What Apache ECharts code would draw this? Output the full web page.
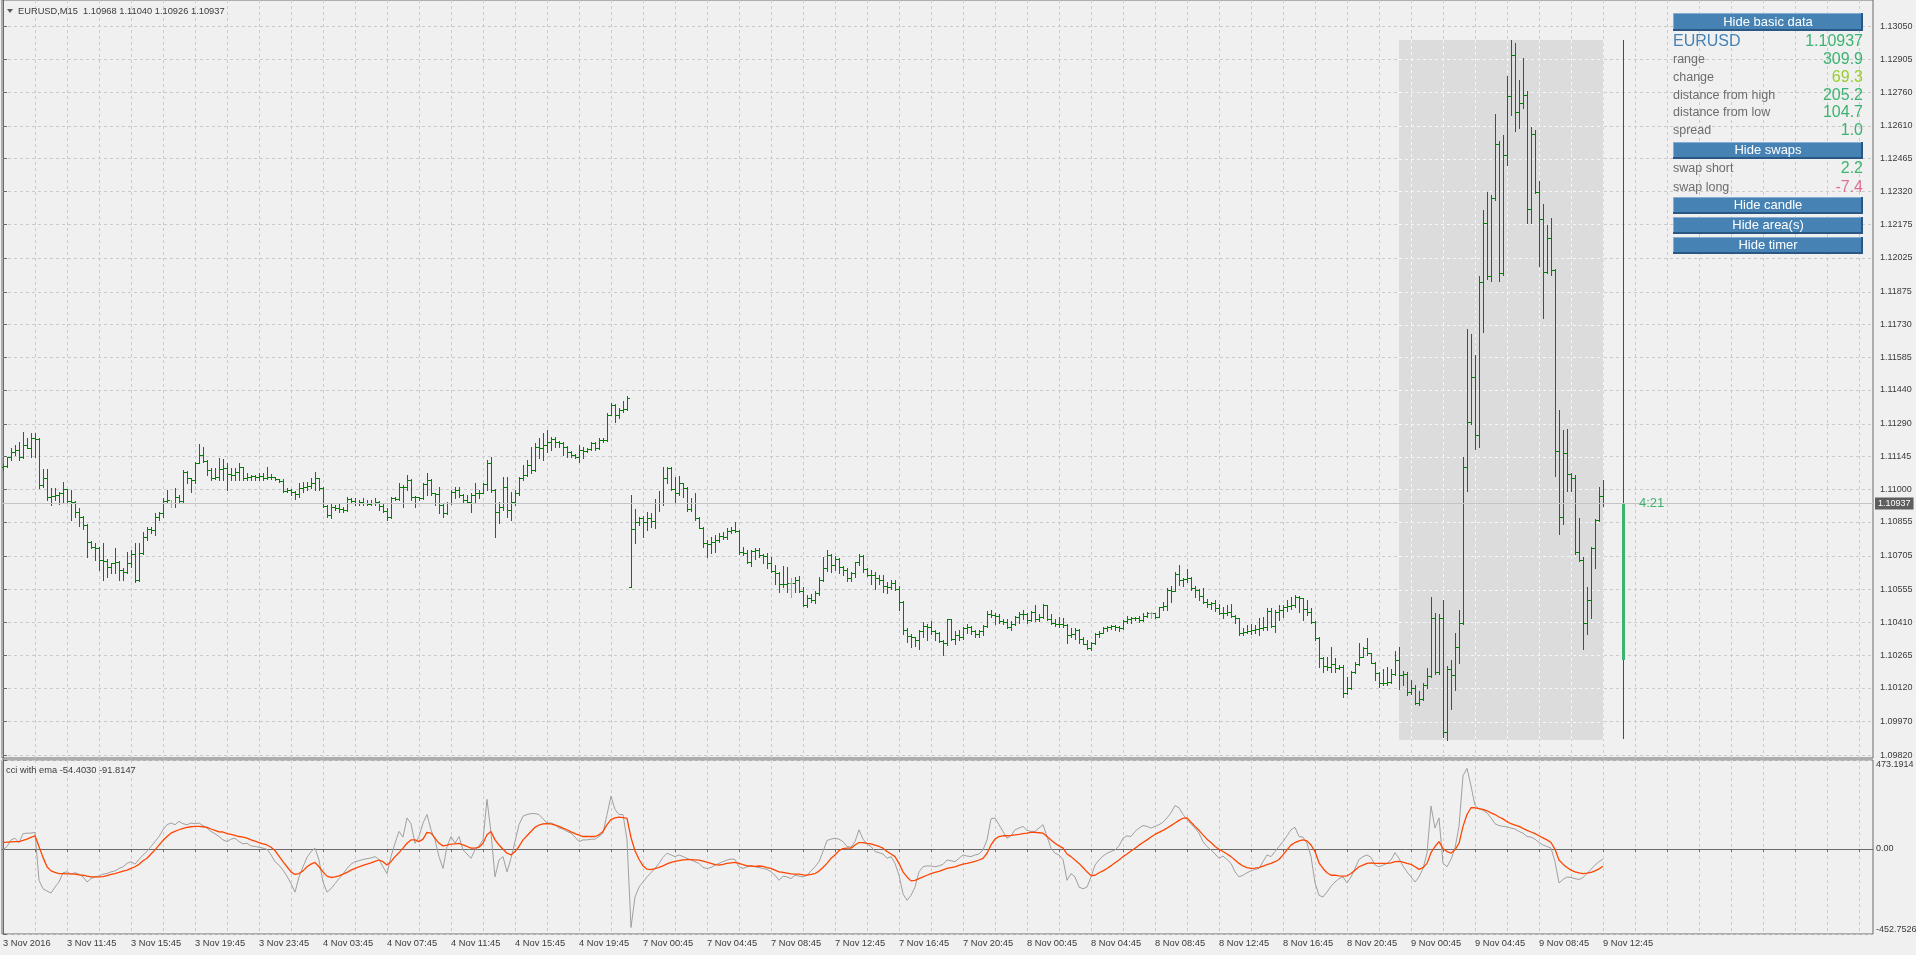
<!DOCTYPE html>
<html>
<head>
<meta charset="utf-8">
<title>EURUSD,M15</title>
<script src="https://cdn.jsdelivr.net/npm/echarts@6/dist/echarts.min.js"></script>
<style>
  html, body { margin: 0; padding: 0; background: #f0f0f0; }
  #chart { width: 1916px; height: 955px; }
</style>
</head>
<body>
<div id="chart"></div>
<script>
const symbol = 'EURUSD';
const period = 'M15';

// bottom time scale, one label every 16 bars
const timeLabels = ['3 Nov 2016', '3 Nov 11:45', '3 Nov 15:45', '3 Nov 19:45', '3 Nov 23:45',
  '4 Nov 03:45', '4 Nov 07:45', '4 Nov 11:45', '4 Nov 15:45', '4 Nov 19:45',
  '7 Nov 00:45', '7 Nov 04:45', '7 Nov 08:45', '7 Nov 12:45', '7 Nov 16:45', '7 Nov 20:45',
  '8 Nov 00:45', '8 Nov 04:45', '8 Nov 08:45', '8 Nov 12:45', '8 Nov 16:45', '8 Nov 20:45',
  '9 Nov 00:45', '9 Nov 04:45', '9 Nov 08:45', '9 Nov 12:45'];

// price scale labels
const priceTicks = [1.13050, 1.12905, 1.12760, 1.12610, 1.12465, 1.12320, 1.12175, 1.12025,
  1.11875, 1.11730, 1.11585, 1.11440, 1.11290, 1.11145, 1.11000, 1.10855, 1.10705, 1.10555,
  1.10410, 1.10265, 1.10120, 1.09970, 1.09820];

const opens = [
  1.11097,1.11103,1.11142,1.11167,1.11174,1.11145,1.11196,1.11182,1.11226,1.11222,
  1.11019,1.11048,1.10967,1.10970,1.10974,1.10982,1.10999,1.10949,1.10945,1.10900,
  1.10878,1.10841,1.10767,1.10745,1.10738,1.10686,1.10683,1.10656,1.10671,1.10678,
  1.10641,1.10634,1.10671,1.10712,1.10597,1.10718,1.10789,1.10826,1.10819,1.10878,
  1.10896,1.10949,1.10937,1.10937,1.10967,1.10949,1.11078,1.11048,1.11041,1.11118,
  1.11152,1.11125,1.11085,1.11048,1.11053,1.11088,1.11093,1.11068,1.11063,1.11078,
  1.11097,1.11048,1.11056,1.11059,1.11053,1.11059,1.11048,1.11056,1.11053,1.11044,
  1.11038,1.10994,1.10997,1.10989,1.10979,1.11004,1.11008,1.11014,1.11026,1.11048,
  1.11004,1.10926,1.10886,1.10920,1.10915,1.10911,1.10908,1.10955,1.10949,1.10940,
  1.10945,1.10940,1.10934,1.10937,1.10945,1.10926,1.10905,1.10878,1.10960,1.10955,
  1.11011,1.11008,1.11041,1.10967,1.10964,1.10960,1.11023,1.11041,1.10982,1.10979,
  1.10930,1.10893,1.10937,1.10989,1.10997,1.10974,1.10952,1.10945,1.10974,1.10982,
  1.10985,1.11023,1.11118,1.10997,1.10900,1.10923,1.11011,1.10908,1.10945,1.10982,
  1.11048,1.11063,1.11108,1.11085,1.11189,1.11182,1.11196,1.11211,1.11222,1.11211,
  1.11204,1.11189,1.11167,1.11152,1.11145,1.11174,1.11171,1.11177,1.11204,1.11182,
  1.11219,1.11216,1.11330,1.11374,1.11330,1.11352,1.11355,1.10568,1.10822,1.10855,
  1.10873,1.10856,1.10871,1.10861,1.10938,1.10941,1.11049,1.11096,1.11000,1.10985,
  1.11026,1.11007,1.10911,1.10938,1.10874,1.10830,1.10760,1.10757,1.10764,1.10775,
  1.10793,1.10790,1.10816,1.10819,1.10816,1.10723,1.10719,1.10679,1.10727,1.10730,
  1.10708,1.10704,1.10671,1.10639,1.10630,1.10582,1.10579,1.10585,1.10585,1.10597,
  1.10548,1.10486,1.10519,1.10511,1.10538,1.10597,1.10649,1.10708,1.10664,1.10693,
  1.10656,1.10642,1.10605,1.10627,1.10676,1.10704,1.10645,1.10622,1.10619,1.10605,
  1.10600,1.10571,1.10568,1.10585,1.10560,1.10501,1.10378,1.10349,1.10343,1.10331,
  1.10371,1.10393,1.10390,1.10372,1.10363,1.10328,1.10319,1.10423,1.10338,1.10353,
  1.10343,1.10383,1.10390,1.10371,1.10357,1.10372,1.10393,1.10446,1.10443,1.10440,
  1.10415,1.10412,1.10390,1.10405,1.10434,1.10445,1.10449,1.10420,1.10457,1.10423,
  1.10434,1.10486,1.10423,1.10408,1.10405,1.10402,1.10399,1.10353,1.10360,1.10378,
  1.10338,1.10316,1.10298,1.10319,1.10360,1.10365,1.10384,1.10388,1.10394,1.10388,
  1.10384,1.10416,1.10424,1.10428,1.10431,1.10421,1.10439,1.10450,1.10450,1.10436,
  1.10476,1.10483,1.10554,1.10551,1.10625,1.10598,1.10601,1.10606,1.10561,1.10554,
  1.10527,1.10502,1.10490,1.10495,1.10473,1.10450,1.10453,1.10458,1.10439,1.10428,
  1.10362,1.10369,1.10373,1.10376,1.10379,1.10384,1.10388,1.10462,1.10394,1.10458,
  1.10465,1.10480,1.10483,1.10487,1.10521,1.10517,1.10468,1.10458,1.10413,1.10339,
  1.10251,1.10217,1.10214,1.10225,1.10206,1.10211,1.10095,1.10117,1.10191,1.10225,
  1.10258,1.10295,1.10273,1.10231,1.10184,1.10140,1.10141,1.10147,1.10182,1.10244,
  1.10176,1.10182,1.10100,1.10121,1.10053,1.10069,1.10131,1.10172,1.10428,1.10192,
  1.10428,1.09926,1.10203,1.10176,1.10299,1.10407,1.11098,1.11298,1.11499,1.11241,
  1.11917,1.12179,1.11943,1.12292,1.12531,1.11958,1.12482,1.12742,1.12926,1.12670,
  1.12711,1.12748,1.12240,1.12572,1.12318,1.12199,1.11964,1.12113,1.11970,1.11171,
  1.10878,1.11159,1.11069,1.11052,1.10721,1.10688,1.10407,1.10510,1.10741,1.10864,
  1.10968];

const highs = [
  1.11112,1.11142,1.11182,1.11196,1.11211,1.11253,1.11226,1.11248,1.11251,1.11226,
  1.11088,1.11088,1.11004,1.11004,1.10989,1.11031,1.11001,1.10997,1.10950,1.10918,
  1.10883,1.10845,1.10770,1.10760,1.10745,1.10760,1.10690,1.10675,1.10738,1.10680,
  1.10649,1.10723,1.10730,1.10760,1.10760,1.10812,1.10834,1.10834,1.10893,1.10900,
  1.10960,1.10997,1.10952,1.11004,1.10974,1.11085,1.11082,1.11052,1.11122,1.11201,
  1.11186,1.11130,1.11093,1.11093,1.11137,1.11133,1.11115,1.11093,1.11093,1.11118,
  1.11100,1.11071,1.11063,1.11063,1.11071,1.11071,1.11097,1.11068,1.11056,1.11047,
  1.11044,1.11004,1.11000,1.10992,1.11029,1.11034,1.11034,1.11048,1.11078,1.11052,
  1.11008,1.10930,1.10937,1.10930,1.10937,1.10923,1.10967,1.10960,1.10960,1.10952,
  1.10960,1.10952,1.10952,1.10960,1.10948,1.10937,1.10915,1.10967,1.10967,1.11026,
  1.11019,1.11063,1.11044,1.10970,1.10967,1.11026,1.11071,1.11044,1.10985,1.11011,
  1.10937,1.10945,1.10997,1.11011,1.11011,1.10977,1.10974,1.10982,1.11026,1.10997,
  1.11026,1.11130,1.11142,1.11000,1.10945,1.11056,1.11056,1.10989,1.10997,1.11056,
  1.11108,1.11130,1.11189,1.11204,1.11226,1.11248,1.11263,1.11233,1.11233,1.11214,
  1.11211,1.11192,1.11170,1.11155,1.11196,1.11189,1.11182,1.11211,1.11211,1.11226,
  1.11226,1.11337,1.11381,1.11377,1.11359,1.11389,1.11411,1.10975,1.10911,1.10875,
  1.10881,1.10901,1.10893,1.10955,1.10992,1.11100,1.11100,1.11100,1.11056,1.11059,
  1.11029,1.11012,1.10960,1.10982,1.10878,1.10834,1.10775,1.10787,1.10797,1.10807,
  1.10812,1.10827,1.10834,1.10855,1.10820,1.10742,1.10730,1.10730,1.10738,1.10738,
  1.10712,1.10716,1.10701,1.10664,1.10634,1.10659,1.10656,1.10605,1.10612,1.10615,
  1.10568,1.10531,1.10534,1.10548,1.10609,1.10698,1.10730,1.10713,1.10704,1.10696,
  1.10660,1.10649,1.10634,1.10679,1.10711,1.10707,1.10649,1.10642,1.10634,1.10622,
  1.10619,1.10590,1.10597,1.10600,1.10571,1.10504,1.10383,1.10357,1.10346,1.10375,
  1.10412,1.10402,1.10414,1.10375,1.10368,1.10334,1.10427,1.10426,1.10372,1.10378,
  1.10390,1.10405,1.10393,1.10375,1.10378,1.10400,1.10461,1.10467,1.10452,1.10446,
  1.10423,1.10423,1.10417,1.10437,1.10457,1.10467,1.10452,1.10461,1.10486,1.10446,
  1.10491,1.10488,1.10446,1.10423,1.10434,1.10431,1.10402,1.10383,1.10383,1.10381,
  1.10346,1.10334,1.10323,1.10363,1.10373,1.10388,1.10394,1.10399,1.10399,1.10394,
  1.10421,1.10439,1.10433,1.10436,1.10439,1.10450,1.10458,1.10458,1.10453,1.10480,
  1.10502,1.10561,1.10569,1.10635,1.10665,1.10606,1.10647,1.10613,1.10569,1.10557,
  1.10561,1.10513,1.10502,1.10507,1.10492,1.10480,1.10487,1.10492,1.10443,1.10431,
  1.10384,1.10399,1.10403,1.10399,1.10428,1.10433,1.10473,1.10473,1.10465,1.10487,
  1.10487,1.10507,1.10521,1.10532,1.10527,1.10519,1.10507,1.10473,1.10416,1.10344,
  1.10255,1.10258,1.10302,1.10251,1.10221,1.10221,1.10169,1.10196,1.10236,1.10317,
  1.10302,1.10339,1.10276,1.10236,1.10191,1.10203,1.10213,1.10203,1.10284,1.10299,
  1.10196,1.10192,1.10155,1.10131,1.10106,1.10141,1.10209,1.10524,1.10452,1.10448,
  1.10510,1.10217,1.10244,1.10364,1.10463,1.11145,1.11712,1.11687,1.11595,1.11943,
  1.12236,1.12318,1.12302,1.12664,1.12543,1.12568,1.12830,1.12989,1.12978,1.12814,
  1.12912,1.12763,1.12605,1.12593,1.12367,1.12265,1.12169,1.12203,1.11975,1.11349,
  1.11261,1.11268,1.11073,1.11063,1.10872,1.10700,1.10565,1.10745,1.10868,1.11012,
  1.11040];

const lows = [
  1.11085,1.11097,1.11130,1.11152,1.11130,1.11140,1.11182,1.11142,1.11145,1.11004,
  1.11011,1.10952,1.10930,1.10952,1.10934,1.10937,1.10937,1.10863,1.10878,1.10837,
  1.10826,1.10701,1.10738,1.10686,1.10641,1.10597,1.10612,1.10627,1.10627,1.10597,
  1.10597,1.10630,1.10656,1.10590,1.10592,1.10715,1.10775,1.10804,1.10797,1.10863,
  1.10878,1.10937,1.10923,1.10923,1.10937,1.10945,1.11026,1.10989,1.11026,1.11115,
  1.11122,1.11063,1.11041,1.11045,1.11041,1.11041,1.10997,1.11041,1.11041,1.11041,
  1.11041,1.11041,1.11041,1.11041,1.11041,1.11041,1.11045,1.11044,1.11041,1.11034,
  1.10989,1.10989,1.10974,1.10955,1.10967,1.10989,1.10997,1.11004,1.10997,1.10997,
  1.10923,1.10878,1.10871,1.10908,1.10900,1.10900,1.10905,1.10937,1.10930,1.10930,
  1.10930,1.10930,1.10930,1.10930,1.10908,1.10900,1.10863,1.10871,1.10952,1.10952,
  1.10923,1.10997,1.10952,1.10923,1.10952,1.10957,1.10974,1.10974,1.10930,1.10893,
  1.10878,1.10890,1.10934,1.10960,1.10967,1.10937,1.10937,1.10900,1.10945,1.10960,
  1.10982,1.10997,1.10989,1.10789,1.10849,1.10908,1.10878,1.10863,1.10930,1.10974,
  1.11041,1.11060,1.11071,1.11082,1.11137,1.11130,1.11167,1.11174,1.11189,1.11189,
  1.11152,1.11145,1.11145,1.11137,1.11122,1.11137,1.11167,1.11174,1.11174,1.11179,
  1.11211,1.11213,1.11327,1.11300,1.11315,1.11344,1.11352,1.10565,1.10763,1.10841,
  1.10790,1.10819,1.10834,1.10827,1.10905,1.10930,1.11029,1.10997,1.10941,1.10975,
  1.10967,1.10905,1.10905,1.10864,1.10827,1.10745,1.10701,1.10719,1.10723,1.10767,
  1.10779,1.10778,1.10807,1.10812,1.10713,1.10708,1.10671,1.10659,1.10690,1.10701,
  1.10671,1.10649,1.10634,1.10582,1.10545,1.10568,1.10545,1.10523,1.10545,1.10545,
  1.10482,1.10479,1.10501,1.10497,1.10531,1.10594,1.10637,1.10634,1.10642,1.10627,
  1.10619,1.10594,1.10594,1.10612,1.10664,1.10634,1.10615,1.10582,1.10560,1.10579,
  1.10545,1.10541,1.10556,1.10553,1.10467,1.10357,1.10323,1.10301,1.10304,1.10294,
  1.10346,1.10331,1.10360,1.10331,1.10323,1.10264,1.10309,1.10331,1.10313,1.10331,
  1.10338,1.10363,1.10360,1.10346,1.10346,1.10353,1.10390,1.10434,1.10405,1.10408,
  1.10405,1.10383,1.10378,1.10397,1.10408,1.10423,1.10408,1.10417,1.10417,1.10417,
  1.10431,1.10420,1.10402,1.10393,1.10390,1.10390,1.10319,1.10346,1.10338,1.10319,
  1.10313,1.10294,1.10289,1.10316,1.10344,1.10362,1.10373,1.10379,1.10376,1.10373,
  1.10381,1.10406,1.10406,1.10421,1.10413,1.10418,1.10433,1.10428,1.10428,1.10434,
  1.10465,1.10465,1.10502,1.10547,1.10576,1.10569,1.10591,1.10554,1.10524,1.10510,
  1.10495,1.10480,1.10468,1.10462,1.10447,1.10428,1.10443,1.10436,1.10406,1.10354,
  1.10354,1.10362,1.10359,1.10362,1.10354,1.10376,1.10376,1.10388,1.10369,1.10421,
  1.10433,1.10462,1.10468,1.10480,1.10458,1.10421,1.10443,1.10406,1.10332,1.10214,
  1.10191,1.10199,1.10191,1.10191,1.10203,1.10080,1.10092,1.10114,1.10184,1.10221,
  1.10255,1.10265,1.10228,1.10154,1.10125,1.10131,1.10131,1.10141,1.10179,1.10114,
  1.10131,1.10090,1.10094,1.10049,1.10045,1.10066,1.10121,1.10169,1.10182,1.10182,
  1.09902,1.09890,1.10024,1.10110,1.10229,1.10401,1.10991,1.11288,1.11179,1.11186,
  1.11696,1.11933,1.11923,1.12281,1.11923,1.11950,1.12435,1.12660,1.12588,1.12599,
  1.12691,1.12179,1.12179,1.12312,1.11990,1.11759,1.11960,1.11950,1.11057,1.10803,
  1.10848,1.10991,1.10991,1.10715,1.10684,1.10291,1.10360,1.10428,1.10653,1.10858,
  1.10926];

const closes = [
  1.11103,1.11142,1.11167,1.11174,1.11145,1.11196,1.11182,1.11226,1.11222,1.11019,
  1.11048,1.10967,1.10970,1.10974,1.10982,1.10999,1.10949,1.10945,1.10900,1.10878,
  1.10841,1.10767,1.10745,1.10738,1.10686,1.10683,1.10656,1.10671,1.10678,1.10641,
  1.10634,1.10671,1.10712,1.10597,1.10718,1.10789,1.10826,1.10819,1.10878,1.10896,
  1.10949,1.10952,1.10937,1.10967,1.10949,1.11078,1.11048,1.11041,1.11118,1.11152,
  1.11125,1.11085,1.11048,1.11053,1.11088,1.11093,1.11068,1.11063,1.11078,1.11097,
  1.11048,1.11056,1.11059,1.11053,1.11059,1.11048,1.11056,1.11053,1.11044,1.11038,
  1.10994,1.10997,1.10989,1.10979,1.11004,1.11008,1.11014,1.11026,1.11048,1.11004,
  1.10926,1.10886,1.10920,1.10915,1.10911,1.10908,1.10955,1.10949,1.10940,1.10945,
  1.10940,1.10934,1.10937,1.10945,1.10926,1.10905,1.10878,1.10960,1.10955,1.11011,
  1.11008,1.11041,1.10967,1.10964,1.10960,1.11023,1.11041,1.10982,1.10979,1.10930,
  1.10893,1.10937,1.10989,1.10997,1.10974,1.10952,1.10945,1.10974,1.10982,1.10985,
  1.11023,1.11118,1.10997,1.10900,1.10923,1.11011,1.10908,1.10945,1.10982,1.11048,
  1.11063,1.11108,1.11085,1.11189,1.11182,1.11196,1.11211,1.11222,1.11211,1.11204,
  1.11189,1.11167,1.11152,1.11145,1.11174,1.11171,1.11177,1.11204,1.11182,1.11219,
  1.11216,1.11330,1.11374,1.11330,1.11352,1.11355,1.11404,1.10822,1.10855,1.10873,
  1.10856,1.10871,1.10861,1.10938,1.10941,1.11049,1.11096,1.11000,1.10985,1.11026,
  1.11007,1.10911,1.10938,1.10874,1.10830,1.10760,1.10757,1.10764,1.10775,1.10793,
  1.10790,1.10816,1.10819,1.10816,1.10723,1.10719,1.10679,1.10727,1.10730,1.10708,
  1.10704,1.10671,1.10639,1.10630,1.10582,1.10579,1.10585,1.10585,1.10597,1.10548,
  1.10486,1.10519,1.10511,1.10538,1.10597,1.10649,1.10708,1.10664,1.10693,1.10656,
  1.10642,1.10605,1.10627,1.10676,1.10704,1.10645,1.10622,1.10619,1.10605,1.10600,
  1.10571,1.10568,1.10585,1.10560,1.10501,1.10378,1.10349,1.10343,1.10331,1.10371,
  1.10393,1.10390,1.10372,1.10363,1.10328,1.10319,1.10423,1.10338,1.10353,1.10343,
  1.10383,1.10390,1.10371,1.10357,1.10372,1.10393,1.10446,1.10443,1.10440,1.10415,
  1.10412,1.10390,1.10405,1.10434,1.10445,1.10449,1.10420,1.10457,1.10423,1.10434,
  1.10486,1.10423,1.10408,1.10405,1.10402,1.10399,1.10353,1.10360,1.10378,1.10338,
  1.10316,1.10298,1.10319,1.10360,1.10365,1.10384,1.10388,1.10394,1.10388,1.10384,
  1.10416,1.10424,1.10428,1.10431,1.10421,1.10439,1.10450,1.10450,1.10436,1.10476,
  1.10483,1.10554,1.10551,1.10625,1.10598,1.10601,1.10606,1.10561,1.10554,1.10527,
  1.10502,1.10490,1.10495,1.10473,1.10450,1.10453,1.10458,1.10439,1.10428,1.10362,
  1.10369,1.10373,1.10376,1.10379,1.10384,1.10388,1.10462,1.10394,1.10458,1.10465,
  1.10480,1.10483,1.10487,1.10521,1.10517,1.10468,1.10458,1.10413,1.10339,1.10251,
  1.10217,1.10214,1.10225,1.10206,1.10211,1.10095,1.10117,1.10191,1.10225,1.10258,
  1.10295,1.10273,1.10231,1.10184,1.10140,1.10141,1.10147,1.10182,1.10244,1.10176,
  1.10182,1.10100,1.10121,1.10053,1.10069,1.10131,1.10172,1.10428,1.10192,1.10428,
  1.09926,1.10203,1.10176,1.10299,1.10407,1.11098,1.11298,1.11499,1.11241,1.11917,
  1.12179,1.11943,1.12292,1.12531,1.11958,1.12482,1.12742,1.12926,1.12670,1.12711,
  1.12748,1.12240,1.12572,1.12318,1.12199,1.11964,1.12113,1.11970,1.11171,1.10878,
  1.11159,1.11069,1.11052,1.10721,1.10688,1.10407,1.10510,1.10741,1.10864,1.10971,
  1.10937];

// CCI and its EMA, one value per bar
const cci = [
  -5,13,48,57,34,81,84,84,88,-167,
  -212,-224,-235,-203,-176,-127,-122,-134,-127,-134,
  -149,-176,-158,-149,-145,-134,-131,-122,-117,-104,
  -95,-77,-68,-81,-56,-32,-14,13,39,66,
  102,129,138,129,147,134,129,138,134,138,
  124,111,93,81,66,48,39,52,57,39,
  27,30,16,13,9,4,-2,-32,-68,-86,
  -113,-145,-185,-230,-149,-95,-45,-14,4,-59,
  -176,-230,-212,-185,-158,-134,-104,-81,-68,-63,
  -56,-52,-48,-41,-56,-95,-131,-41,30,93,
  63,165,134,30,66,138,183,102,48,-41,
  -104,13,66,30,66,-5,-27,-50,-5,16,
  48,264,84,-149,-59,-41,-122,-50,39,129,
  174,183,188,188,183,160,138,138,129,111,
  106,93,84,63,39,48,48,52,52,66,
  84,183,281,210,183,183,48,-418,-256,-203,
  -176,-149,-127,-104,-77,-45,-23,-32,-41,-32,
  -41,-50,-59,-68,-77,-99,-104,-99,-86,-77,
  -68,-59,-54,-56,-95,-104,-95,-91,-95,-99,
  -104,-109,-122,-140,-167,-145,-149,-158,-140,-145,
  -149,-140,-117,-95,-68,-14,45,52,57,52,
  39,13,9,39,102,52,27,13,-14,-20,
  -27,-50,-41,-77,-140,-239,-274,-247,-203,-122,
  -95,-90,-91,-95,-90,-82,-59,-63,-68,-50,
  -32,-38,-41,-32,-27,-5,48,160,165,129,
  93,57,70,102,111,120,99,93,93,111,
  129,66,4,-23,-32,-56,-167,-131,-149,-203,
  -212,-203,-149,-86,-59,-38,-23,-14,-5,16,
  57,70,66,93,111,124,120,111,120,129,
  142,165,192,231,219,183,156,134,111,84,
  39,13,-5,-27,-50,-38,-56,-77,-122,-149,
  -140,-127,-117,-109,-104,-68,-32,-41,-14,13,
  39,70,102,115,66,63,30,-40,-180,-247,
  -256,-229,-199,-176,-158,-149,-181,-149,-104,-56,
  -41,-32,-45,-86,-95,-86,-77,-59,-20,-50,
  -91,-122,-149,-176,-149,-104,-23,228,111,165,
  -77,-95,-56,4,120,389,429,335,231,213,
  206,192,165,134,124,120,117,111,106,93,
  84,66,63,52,34,21,13,4,-68,-181,
  -163,-149,-152,-158,-163,-152,-131,-109,-86,-68,
  -54.4030];

const cciEma = [
  34,36,38,39,39,45,52,61,70,13,
  -45,-95,-117,-125,-131,-131,-133,-133,-134,-138,
  -140,-145,-149,-149,-149,-147,-142,-136,-131,-125,
  -118,-113,-104,-95,-82,-63,-50,-27,-5,20,
  45,66,84,93,102,109,115,118,120,120,
  118,115,106,99,91,90,81,77,72,66,
  63,57,48,41,34,27,21,9,-9,-38,
  -68,-95,-122,-136,-131,-117,-95,-81,-72,-95,
  -122,-145,-152,-149,-143,-134,-125,-113,-104,-95,
  -88,-81,-74,-66,-59,-68,-86,-68,-41,-20,
  4,30,48,48,39,52,88,84,57,30,
  16,20,25,27,30,21,13,4,4,9,
  30,75,93,48,21,-2,-23,-32,-14,13,
  48,70,93,115,127,133,134,133,127,120,
  111,102,91,81,73,66,66,66,66,75,
  93,129,156,165,169,167,163,60,-10,-55,
  -90,-108,-110,-105,-98,-90,-80,-72,-66,-62,
  -58,-57,-57,-58,-60,-65,-70,-77,-84,-86,
  -82,-77,-74,-72,-77,-84,-90,-91,-93,-91,
  -93,-99,-104,-113,-122,-125,-129,-133,-134,-134,
  -138,-140,-136,-131,-118,-99,-77,-50,-32,-9,
  2,4,4,21,34,34,30,27,20,13,
  4,-14,-27,-41,-77,-122,-149,-170,-167,-158,
  -149,-140,-131,-125,-120,-111,-104,-99,-95,-88,
  -81,-77,-72,-66,-59,-50,-23,21,52,66,
  70,70,72,75,77,81,84,88,88,86,
  84,66,48,30,16,4,-27,-41,-59,-77,
  -99,-122,-142,-140,-127,-117,-104,-90,-74,-59,
  -41,-27,-11,4,20,34,48,63,77,88,
  99,111,124,138,152,163,165,142,120,99,
  75,52,34,13,-2,-14,-27,-41,-59,-77,
  -91,-100,-104,-102,-99,-91,-84,-77,-68,-56,
  -32,-5,20,34,43,48,43,21,-14,-74,
  -104,-127,-140,-140,-143,-145,-143,-131,-113,-95,
  -86,-77,-74,-77,-77,-77,-77,-74,-68,-66,
  -70,-77,-82,-95,-109,-100,-77,-20,13,39,
  2,-14,-23,-5,30,120,183,219,219,215,
  210,203,192,183,170,160,145,134,127,120,
  109,99,90,81,70,59,48,34,-2,-59,
  -81,-99,-113,-122,-127,-131,-129,-125,-117,-106,
  -91.8147];

const cciMax = 473.1914;
const cciMin = -452.7526;

const dayStartIndex = 349;   // first bar of 9 Nov
const candleShift = 5;       // day candle drawn 5 bars right of the last bar
const spread = 1.0;
const swapShort = 2.2;
const swapLong = -7.4;
const timerText = '4:21';

const FONT = '"Liberation Sans", Arial, sans-serif';
const GRID_LINE = '#cbcbcb';
const AXIS_COLOR = '#6a6a6a';
const TEXT_COLOR = '#3a3a3a';

const n = closes.length;
const last = n - 1;
const bars = closes.map((c, i) => [i, opens[i], highs[i], lows[i], c]);
const dayHigh = Math.max(...highs.slice(dayStartIndex));
const dayLow = Math.min(...lows.slice(dayStartIndex));
const dayOpen = opens[dayStartIndex];
const dayClose = closes[last];

const xMin = -0.25, xMax = 467.5;
const gridSteps = [];
for (let v = 0; v <= xMax; v += 8) gridSteps.push(v);
const labelSteps = timeLabels.map((_, k) => k * 16);

const chart = echarts.init(document.getElementById('chart'));

function renderBar(params, api) {
  const i = api.value(0);
  const o = api.coord([i, api.value(1)]);
  const h = api.coord([i, api.value(2)]);
  const l = api.coord([i, api.value(3)]);
  const c = api.coord([i, api.value(4)]);
  const x = Math.round(o[0]);
  const color = api.value(1) === api.value(4) ? '#a4a4a4' : '#008000';
  return {
    type: 'group',
    children: [
      { type: 'rect', shape: { x: x, y: Math.round(h[1]), width: 1, height: Math.max(1, Math.round(l[1]) - Math.round(h[1]) + 1) }, style: { fill: color } },
      { type: 'rect', shape: { x: x - 2, y: Math.round(o[1]), width: 2, height: 1 }, style: { fill: color } },
      { type: 'rect', shape: { x: x + 1, y: Math.round(c[1]), width: 2, height: 1 }, style: { fill: color } }
    ]
  };
}

function renderArea(params, api) {
  const s = api.value(0), e = api.value(1), hi = api.value(2), lo = api.value(3);
  const p0 = api.coord([s, hi]);
  const p1 = api.coord([e, lo]);
  const x0 = Math.round(p0[0]), x1 = Math.round(p1[0]) + 1;
  const y0 = Math.round(p0[1]), y1 = Math.round(p1[1]);
  const children = [{ type: 'rect', shape: { x: x0, y: y0, width: x1 - x0, height: y1 - y0 }, style: { fill: '#dcdcdc' } }];
  const dash = { stroke: '#f6f6f6', lineWidth: 1, lineDash: [3, 3] };
  gridSteps.forEach(v => {
    if (v > s && v <= e) {
      const x = Math.round(api.coord([v, hi])[0]) + 0.5;
      children.push({ type: 'line', shape: { x1: x, y1: y0, x2: x, y2: y1 }, style: dash });
    }
  });
  priceTicks.forEach(v => {
    if (v < hi && v > lo) {
      const y = Math.round(api.coord([s, v])[1]) + 0.5;
      children.push({ type: 'line', shape: { x1: x0, y1: y, x2: x1, y2: y }, style: dash });
    }
  });
  return { type: 'group', children };
}

function renderDayCandle(params, api) {
  const i = api.value(0);
  const o = api.coord([i, api.value(1)]);
  const h = api.coord([i, api.value(2)]);
  const l = api.coord([i, api.value(3)]);
  const c = api.coord([i, api.value(4)]);
  const x = Math.round(o[0]);
  const top = Math.round(Math.min(o[1], c[1]));
  const bot = Math.round(Math.max(o[1], c[1]));
  return {
    type: 'group',
    children: [
      { type: 'rect', shape: { x: x, y: Math.round(h[1]), width: 1, height: Math.round(l[1] - h[1]) }, style: { fill: '#008000' } },
      { type: 'rect', shape: { x: x - 1, y: top, width: 3, height: bot - top }, style: { fill: '#3cb371' } }
    ]
  };
}

function txt(x, y, text, size, color, align) {
  return {
    type: 'text', x: x, y: y, z: 100, silent: true,
    style: { text: text, fill: color, fontSize: size, fontFamily: FONT, align: align || 'left', verticalAlign: 'middle' }
  };
}

function box(x, y, w, h, fill) {
  return { type: 'rect', z: 100, silent: true, shape: { x: x, y: y, width: w, height: h }, style: { fill: fill } };
}

const panelX = 1673, panelW = 190;
function button(label, y, h) {
  return [
    box(panelX, y, panelW, h, '#4682b4'),
    box(panelX, y, panelW, 1, '#86add3'),
    box(panelX, y, 1, h, '#86add3'),
    box(panelX, y + h - 2, panelW, 2, '#2a5784'),
    box(panelX + panelW - 2, y, 2, h, '#2a5784'),
    txt(panelX + panelW / 2, y + h / 2, label, 13, '#ffffff', 'center')
  ];
}

const pip = 0.0001;
const green = '#3cb371';
const labelGray = '#6c6c6c';
const rows = [
  ['range', 60, ((dayHigh - dayLow) / pip).toFixed(1), green],
  ['change', 78, ((dayClose - dayOpen) / pip).toFixed(1), '#9acd32'],
  ['distance from high', 96, ((dayHigh - dayClose) / pip).toFixed(1), green],
  ['distance from low', 113, ((dayClose - dayLow) / pip).toFixed(1), green],
  ['spread', 131, spread.toFixed(1), green],
  ['swap short', 169, swapShort.toFixed(1), green],
  ['swap long', 188, swapLong.toFixed(1), '#db7093']
];

const ui = [];
ui.push({ type: 'polygon', z: 100, silent: true, shape: { points: [[7, 9], [13, 9], [10, 13]] }, style: { fill: '#5a5a5a' } });
ui.push(txt(18, 11, symbol + ',' + period + '  ' + [opens[last], highs[last], lows[last], closes[last]].map(v => v.toFixed(5)).join(' '), 9.3, TEXT_COLOR));
ui.push(txt(6, 770, 'cci with ema ' + cci[last].toFixed(4) + ' ' + cciEma[last].toFixed(4), 9.3, TEXT_COLOR));
ui.push(...button('Hide basic data', 13, 18));
ui.push(txt(panelX, 42, symbol, 16, '#4682b4'));
ui.push(txt(panelX + panelW, 42, dayClose.toFixed(5), 16, green, 'right'));
rows.forEach(r => {
  ui.push(txt(panelX, r[1], r[0], 12.5, labelGray));
  ui.push(txt(panelX + panelW, r[1], r[2], 16, r[3], 'right'));
});
ui.push(...button('Hide swaps', 142, 17));
ui.push(...button('Hide candle', 197, 17));
ui.push(...button('Hide area(s)', 217, 17));
ui.push(...button('Hide timer', 237, 17));
ui.push(txt(1639, 503, timerText, 13, green));

const dashed = { show: true, lineStyle: { color: GRID_LINE, type: [3, 3], width: 1 } };

const option = {
  animation: false,
  backgroundColor: '#f0f0f0',
  textStyle: { fontFamily: FONT },
  grid: [
    { left: 2, right: 43, top: 0, height: 758, show: true, borderColor: AXIS_COLOR, borderWidth: 1, outerBoundsMode: 'none' },
    { left: 2, right: 43, top: 760, height: 174, show: true, borderColor: AXIS_COLOR, borderWidth: 1, outerBoundsMode: 'none' }
  ],
  xAxis: [
    {
      type: 'value', gridIndex: 0, min: xMin, max: xMax,
      axisLine: { show: false },
      axisTick: { show: false, customValues: gridSteps },
      axisLabel: { show: false },
      splitLine: dashed
    },
    {
      type: 'value', gridIndex: 1, min: xMin, max: xMax,
      axisLine: { show: true, lineStyle: { color: AXIS_COLOR } },
      axisTick: { show: true, customValues: gridSteps, length: 3, lineStyle: { color: AXIS_COLOR } },
      axisLabel: {
        customValues: labelSteps, showMinLabel: true, showMaxLabel: true, hideOverlap: false,
        formatter: v => timeLabels[Math.round(v / 16)] || '',
        align: 'left', margin: 5, fontSize: 9.3, color: TEXT_COLOR, fontFamily: FONT
      },
      splitLine: dashed
    }
  ],
  yAxis: [
    {
      type: 'value', gridIndex: 0, position: 'right', min: 1.09809, max: 1.13168,
      axisLine: { show: true, lineStyle: { color: AXIS_COLOR } },
      axisTick: { show: true, customValues: priceTicks, length: 4, lineStyle: { color: AXIS_COLOR } },
      axisLabel: {
        customValues: priceTicks, showMinLabel: true, showMaxLabel: true, hideOverlap: false,
        formatter: v => v.toFixed(5), fontSize: 9, color: TEXT_COLOR, margin: 7, fontFamily: FONT
      },
      splitLine: dashed
    },
    {
      type: 'value', gridIndex: 1, position: 'right', min: cciMin, max: cciMax,
      axisLine: { show: true, lineStyle: { color: AXIS_COLOR } },
      axisTick: { show: true, customValues: [cciMin, 0, cciMax], length: 4, lineStyle: { color: AXIS_COLOR } },
      axisLabel: {
        customValues: [cciMin, 0, cciMax], showMinLabel: true, showMaxLabel: true, hideOverlap: false,
        formatter: v => (v === 0 ? '0.00' : v.toFixed(4)),
        verticalAlignMaxLabel: 'top', verticalAlignMinLabel: 'bottom',
        fontSize: 9, color: TEXT_COLOR, margin: 3, fontFamily: FONT
      },
      splitLine: dashed
    }
  ],
  series: [
    {
      type: 'custom', name: 'day area', xAxisIndex: 0, yAxisIndex: 0, z: 1, silent: true, clip: true,
      renderItem: renderArea,
      encode: { x: [0, 1], y: [2, 3] },
      data: [[dayStartIndex, last, dayHigh, dayLow]]
    },
    {
      type: 'line', name: 'bid', xAxisIndex: 0, yAxisIndex: 0, z: 1, silent: true,
      data: [[last, dayClose]], showSymbol: false, lineStyle: { opacity: 0 },
      markLine: {
        silent: true, symbol: 'none', animation: false, precision: 5,
        lineStyle: { color: '#c4c4c4', type: 'solid', width: 1 },
        label: {
          position: 'end', distance: 2, formatter: () => dayClose.toFixed(5),
          backgroundColor: '#5e5e5e', color: '#ffffff', padding: [2, 3, 1, 3],
          fontSize: 9, fontFamily: FONT
        },
        data: [{ yAxis: dayClose }]
      }
    },
    {
      type: 'custom', name: 'EURUSD', xAxisIndex: 0, yAxisIndex: 0, z: 3, silent: true, clip: true,
      renderItem: renderBar,
      encode: { x: 0, y: [1, 2, 3, 4] },
      data: bars
    },
    {
      type: 'custom', name: 'day candle', xAxisIndex: 0, yAxisIndex: 0, z: 3, silent: true, clip: true,
      renderItem: renderDayCandle,
      encode: { x: 0, y: [1, 2, 3, 4] },
      data: [[last + candleShift, dayOpen, dayHigh, dayLow, dayClose]]
    },
    {
      type: 'line', name: 'cci', xAxisIndex: 1, yAxisIndex: 1, z: 3, silent: true,
      data: cci.map((v, i) => [i, v]), showSymbol: false,
      lineStyle: { color: '#a0a0a0', width: 1 }
    },
    {
      type: 'line', name: 'ema', xAxisIndex: 1, yAxisIndex: 1, z: 4, silent: true,
      data: cciEma.map((v, i) => [i, v]), showSymbol: false,
      lineStyle: { color: '#ff4500', width: 1.3 }
    }
  ],
  graphic: { elements: ui }
};

chart.setOption(option);
</script>
</body>
</html>
